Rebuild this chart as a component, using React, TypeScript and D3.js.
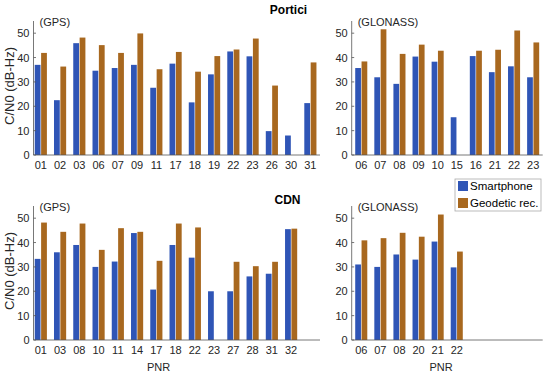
import React from 'react';
import * as d3 from 'd3';

// C/N0 (dB-Hz) per PNR, smartphone vs geodetic receiver
const porticiGpsPnr = ['01', '02', '03', '06', '07', '09', '11', '17', '18', '19', '22', '23', '26', '30', '31'];
const porticiGpsPhone = [37.0, 22.5, 45.9, 34.6, 35.7, 37.0, 27.6, 37.5, 21.6, 33.1, 42.5, 40.5, 9.8, 8.0, 21.3];
const porticiGpsGeo: (number | null)[] = [41.9, 36.3, 48.2, 45.1, 41.9, 49.9, 35.2, 42.3, 34.2, 40.6, 43.3, 47.8, 28.5, null, 38.0];

const porticiGloPnr = ['06', '07', '08', '09', '10', '15', '16', '21', '22', '23'];
const porticiGloPhone = [35.7, 31.9, 29.2, 40.4, 38.3, 15.5, 40.6, 34.0, 36.4, 31.9];
const porticiGloGeo: (number | null)[] = [38.4, 51.6, 41.5, 45.3, 42.8, null, 42.8, 43.2, 51.1, 46.2];

const cdnGpsPnr = ['01', '03', '08', '10', '11', '14', '17', '18', '22', '23', '27', '28', '31', '32'];
const cdnGpsPhone = [33.3, 36.0, 39.0, 30.0, 32.2, 43.9, 20.7, 39.0, 33.8, 20.0, 20.0, 26.1, 27.2, 45.5];
const cdnGpsGeo: (number | null)[] = [48.2, 44.4, 47.8, 37.0, 45.9, 44.4, 32.5, 47.8, 46.2, null, 32.1, 30.3, 32.1, 45.7];

const cdnGloPnr = ['06', '07', '08', '20', '21', '22'];
const cdnGloPhone = [31.0, 30.0, 35.1, 33.0, 40.4, 29.8];
const cdnGloGeo: (number | null)[] = [40.9, 41.8, 44.0, 42.4, 51.5, 36.3];

const yTicks = [0, 10, 20, 30, 40, 50];
const seriesNames = ['Smartphone', 'Geodetic rec.'];

const BLUE = '#2f55b6';
const BROWN = '#a8681f';
const FONT = '"Liberation Sans", Arial, Helvetica, sans-serif';

interface PanelProps {
  x0: number;
  x1: number;
  y0: number;
  y1: number;
  xDomain: [number, number];
  label: string;
  pnr: string[];
  phone: number[];
  geo: (number | null)[];
  showYLabel: boolean;
  xLabelX?: number;
}

const Panel: React.FC<PanelProps> = ({ x0, x1, y0, y1, xDomain, label, pnr, phone, geo, showYLabel, xLabelX }) => {
  const x = d3.scaleLinear().domain(xDomain).range([x0, x1]);
  const y = d3.scaleLinear().domain([0, 55]).range([y1, y0]);
  const step = x(2) - x(1);
  const bw = step * 0.3;

  return (
    <g>
      {phone.map((v, i) => (
        <rect key={'p' + i} x={x(i + 1) - bw - 0.3} y={y(v)} width={bw} height={y(0) - y(v)} fill={BLUE} />
      ))}
      {geo.map((v, i) =>
        v == null ? null : (
          <rect key={'g' + i} x={x(i + 1) + 0.3} y={y(v)} width={bw} height={y(0) - y(v)} fill={BROWN} />
        )
      )}
      <line x1={x0} x2={x0} y1={y0} y2={y1} stroke="#555" strokeWidth={0.8} />
      <line x1={x0} x2={x1} y1={y1} y2={y1} stroke="#555" strokeWidth={0.8} />
      {yTicks.map(t => (
        <g key={t}>
          <line x1={x0} x2={x0 + 2.5} y1={y(t)} y2={y(t)} stroke="#555" strokeWidth={0.8} />
          <text x={x0 - 4} y={y(t)} dy="0.36em" textAnchor="end" fontSize={11} fill="#262626">{t}</text>
        </g>
      ))}
      {pnr.map((p, i) => (
        <text key={p} x={x(i + 1)} y={y1 + 14} textAnchor="middle" fontSize={11} fill="#262626">{p}</text>
      ))}
      <text x={x0 + 6} y={y0 + 5} fontSize={11} fill="#262626">{label}</text>
      {showYLabel && (
        <text transform={`translate(14,${(y0 + y1) / 2 - 2}) rotate(-90)`} textAnchor="middle" fontSize={13} fill="#262626">
          C/N0 (dB-Hz)
        </text>
      )}
      {xLabelX != null && (
        <text x={xLabelX} y={y1 + 31} textAnchor="middle" fontSize={11} fill="#262626">PNR</text>
      )}
    </g>
  );
};

export default function App() {
  const width = 550;
  const height = 376;
  const leftX: [number, number] = [33.5, 320];
  const rightX: [number, number] = [351.7, 542.7];
  const topY: [number, number] = [21, 155];
  const botY: [number, number] = [206, 340];

  return (
    <svg width={width} height={height} style={{ position: 'absolute', left: 0, top: 0, background: '#fff' }} fontFamily={FONT}>
      <rect width={width} height={height} fill="#fff" />
      <text x={288.5} y={13.5} textAnchor="middle" fontSize={12} fontWeight="bold" fill="#000">Portici</text>
      <text x={287.5} y={203.5} textAnchor="middle" fontSize={12} fontWeight="bold" fill="#000">CDN</text>

      <Panel x0={leftX[0]} x1={leftX[1]} y0={topY[0]} y1={topY[1]} xDomain={[0.62, 15.5]} label="(GPS)"
        pnr={porticiGpsPnr} phone={porticiGpsPhone} geo={porticiGpsGeo} showYLabel />
      <Panel x0={rightX[0]} x1={rightX[1]} y0={topY[0]} y1={topY[1]} xDomain={[0.5, 10.5]} label="(GLONASS)"
        pnr={porticiGloPnr} phone={porticiGloPhone} geo={porticiGloGeo} showYLabel={false} />
      <Panel x0={leftX[0]} x1={leftX[1]} y0={botY[0]} y1={botY[1]} xDomain={[0.62, 15.5]} label="(GPS)"
        pnr={cdnGpsPnr} phone={cdnGpsPhone} geo={cdnGpsGeo} showYLabel xLabelX={158.5} />
      <Panel x0={rightX[0]} x1={rightX[1]} y0={botY[0]} y1={botY[1]} xDomain={[0.5, 10.5]} label="(GLONASS)"
        pnr={cdnGloPnr} phone={cdnGloPhone} geo={cdnGloGeo} showYLabel={false} xLabelX={441} />

      <g>
        <rect x={455} y={179} width={86} height={32} fill="#fff" stroke="#aaa" strokeWidth={0.8} />
        {seriesNames.map((s, i) => (
          <g key={s}>
            <rect x={458} y={181 + i * 17} width={10} height={10} fill={i === 0 ? BLUE : BROWN} />
            <text x={470} y={190 + i * 17} fontSize={11.5} fill="#000">{s}</text>
          </g>
        ))}
      </g>
    </svg>
  );
}
